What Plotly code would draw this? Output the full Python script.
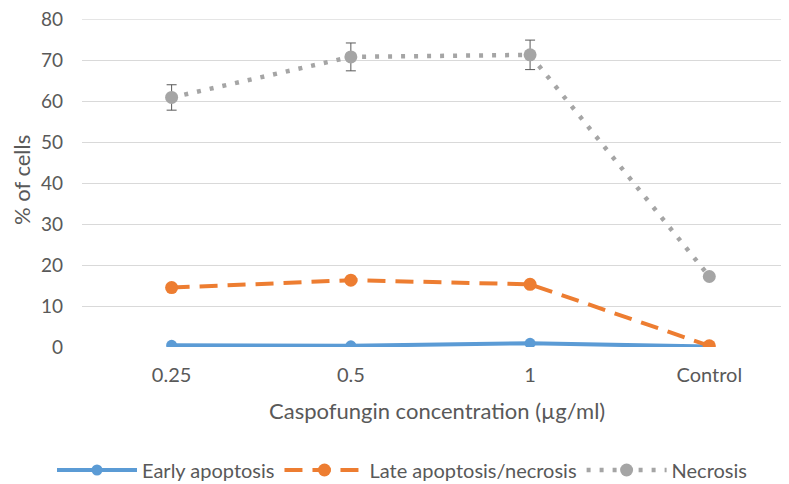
import plotly.graph_objects as go

categories = ["0.25", "0.5", "1", "Control"]
early = [0.4, 0.3, 0.9, 0.1]
late = [14.5, 16.3, 15.3, 0.3]
necrosis = [60.9, 70.8, 71.3, 17.2]
necrosis_err = [3.1, 3.4, 3.6, 0.0]
y_ticks = [0, 10, 20, 30, 40, 50, 60, 70, 80]

FONT = "Lato"
TXT = "#595959"
GRID = "#D9D9D9"
W, H = 789, 484
PL, PR, PT, PB = 82, 781, 19, 347  # plot area in pixels

fig = go.Figure()
fig.add_trace(go.Scatter(
    x=categories, y=early, name="Early apoptosis", mode="lines+markers",
    line=dict(color="#5B9BD5", width=4), marker=dict(size=11, color="#5B9BD5")))
fig.add_trace(go.Scatter(
    x=categories, y=late, name="Late apoptosis/necrosis", mode="lines+markers",
    line=dict(color="#ED7D31", width=4, dash="18px,10px"), marker=dict(size=13, color="#ED7D31")))
fig.add_trace(go.Scatter(
    x=categories, y=necrosis, name="Necrosis", mode="lines+markers",
    line=dict(color="#A5A5A5", width=4.5, dash="4px,9px"), marker=dict(size=13, color="#A5A5A5"),
    error_y=dict(type="data", array=necrosis_err, visible=True, color="#595959", thickness=1, width=5)))

fig.update_layout(
    width=W, height=H,
    margin=dict(l=0, r=0, t=0, b=0, autoexpand=False),
    paper_bgcolor="white", plot_bgcolor="white",
    font=dict(family=FONT, color=TXT, size=20),
    showlegend=True,
    legend=dict(orientation="h", x=402 / W, xanchor="center", y=(H - 470) / H,
                yanchor="middle", font=dict(size=20, color=TXT), tracegroupgap=0, itemwidth=80),
    xaxis=dict(type="category", range=[-0.5, 3.4], domain=[PL / W, PR / W], automargin=False,
               showgrid=False, zeroline=False, showline=False, ticks="", ticklabelstandoff=14,
               tickfont=dict(size=20, color=TXT)),
    yaxis=dict(range=[0, 80.05], tickvals=y_ticks, domain=[(H - PB) / H, (H - PT) / H], automargin=False,
               showgrid=True, gridcolor=GRID, gridwidth=1, zeroline=False, showline=False,
               ticks="", ticklabelstandoff=18, ticklabeloverflow="allow",
               tickfont=dict(size=19, color=TXT)),
    shapes=[dict(type="line", xref="x domain", yref="y", x0=0, x1=1, y0=y_ticks[-1], y1=y_ticks[-1],
                 line=dict(color=GRID, width=1), layer="below")],
    annotations=[
        dict(text="Caspofungin concentration (µg/ml)", xref="paper", yref="paper",
             x=437 / W, y=(H - 410) / H, xanchor="center", yanchor="middle",
             showarrow=False, font=dict(size=22, color=TXT)),
        dict(text="% of cells", xref="paper", yref="paper", textangle=-90,
             x=21 / W, y=(H - 180) / H, xanchor="center", yanchor="middle",
             showarrow=False, font=dict(size=22, color=TXT), borderpad=0),
    ],
)

fig.write_html("out.html", config={"displayModeBar": False},
               post_script="document.body.style.margin='0';")
